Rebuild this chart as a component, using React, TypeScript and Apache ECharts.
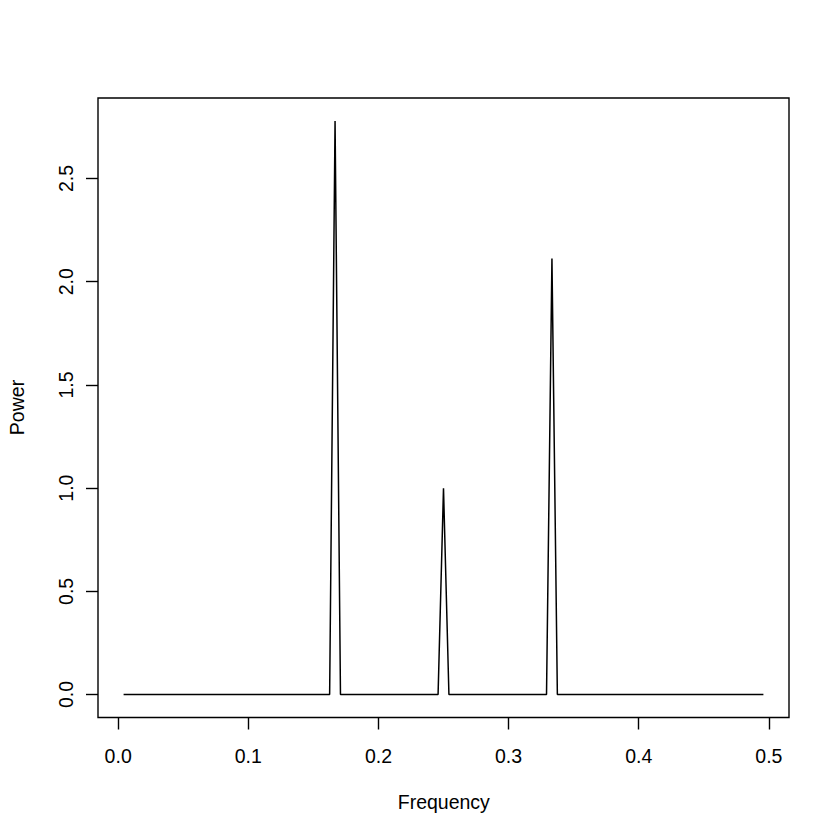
import React, { useEffect, useRef } from "react";
import * as echarts from "echarts";

// Periodogram of a series of length 240: frequencies k/240, k = 1..119
const nObs = 240;
const power: number[] = [
  0, 0, 0, 0, 0, 0, 0, 0, 0, 0, 0, 0, 0, 0, 0, 0, 0, 0, 0, 0,
  0, 0, 0, 0, 0, 0, 0, 0, 0, 0, 0, 0, 0, 0, 0, 0, 0, 0, 0, 2.779,
  0, 0, 0, 0, 0, 0, 0, 0, 0, 0, 0, 0, 0, 0, 0, 0, 0, 0, 0, 0.999,
  0, 0, 0, 0, 0, 0, 0, 0, 0, 0, 0, 0, 0, 0, 0, 0, 0, 0, 0, 2.112,
  0, 0, 0, 0, 0, 0, 0, 0, 0, 0, 0, 0, 0, 0, 0, 0, 0, 0, 0, 0,
  0, 0, 0, 0, 0, 0, 0, 0, 0, 0, 0, 0, 0, 0, 0, 0, 0, 0, 0,
];
const frequency: number[] = power.map((_, i) => (i + 1) / nObs);

const xTicks = [0, 0.1, 0.2, 0.3, 0.4, 0.5];
const yTicks = [0, 0.5, 1.0, 1.5, 2.0, 2.5];
const xTitle = "Frequency";
const yTitle = "Power";

const FONT = "'Liberation Sans', Arial, Helvetica, sans-serif";
const FS = 19.5;

export default function App() {
  const ref = useRef<HTMLDivElement>(null);
  useEffect(() => {
    if (!ref.current) return;
    const chart = echarts.init(ref.current, null, { renderer: "svg" });
    const xMinD = Math.min(...frequency);
    const xMaxD = Math.max(...frequency);
    const yMinD = Math.min(...power);
    const yMaxD = Math.max(...power);
    const xPad = (xMaxD - xMinD) * 0.04;
    const yPad = (yMaxD - yMinD) * 0.04;
    chart.setOption({
      animation: false,
      backgroundColor: "#ffffff",
      grid: {
        left: 98,
        top: 98,
        width: 691,
        height: 619.5,
        show: true,
        borderColor: "#000000",
        borderWidth: 1.4,
        backgroundColor: "transparent",
      },
      xAxis: {
        type: "value",
        position: "bottom",
        min: xMinD - xPad,
        max: xMaxD + xPad,
        axisLine: { show: false, onZero: false },
        splitLine: { show: false },
        axisTick: {
          show: true,
          inside: false,
          length: 12,
          customValues: xTicks,
          lineStyle: { color: "#000", width: 1.4 },
        },
        axisLabel: {
          show: true,
          customValues: xTicks,
          margin: 28,
          color: "#000",
          fontSize: FS,
          fontFamily: FONT,
          formatter: (v: number) => v.toFixed(1),
        },
      },
      yAxis: {
        type: "value",
        position: "left",
        min: yMinD - yPad,
        max: yMaxD + yPad,
        axisLine: { show: false, onZero: false },
        splitLine: { show: false },
        axisTick: {
          show: true,
          inside: false,
          length: 12,
          customValues: yTicks,
          lineStyle: { color: "#000", width: 1.4 },
        },
        axisLabel: {
          show: true,
          customValues: yTicks,
          rotate: 90,
          margin: 22,
          color: "#000",
          fontSize: FS,
          fontFamily: FONT,
          formatter: (v: number) => v.toFixed(1),
        },
      },
      graphic: [
        {
          type: "text",
          x: 443.8,
          y: 802,
          style: {
            text: xTitle,
            fontSize: FS,
            fontFamily: FONT,
            fill: "#000",
            align: "center",
            verticalAlign: "middle",
          },
        },
        {
          type: "text",
          x: 17,
          y: 407.5,
          rotation: Math.PI / 2,
          style: {
            text: yTitle,
            fontSize: FS,
            fontFamily: FONT,
            fill: "#000",
            align: "center",
            verticalAlign: "middle",
          },
        },
      ],
      series: [
        {
          type: "line",
          data: frequency.map((f, i) => [f, power[i]]),
          showSymbol: false,
          symbol: "none",
          lineStyle: { color: "#000000", width: 1.5 },
          silent: true,
        },
      ],
    });
    return () => chart.dispose();
  }, []);
  return <div ref={ref} style={{ width: 840, height: 840, margin: -8 }} />;
}
